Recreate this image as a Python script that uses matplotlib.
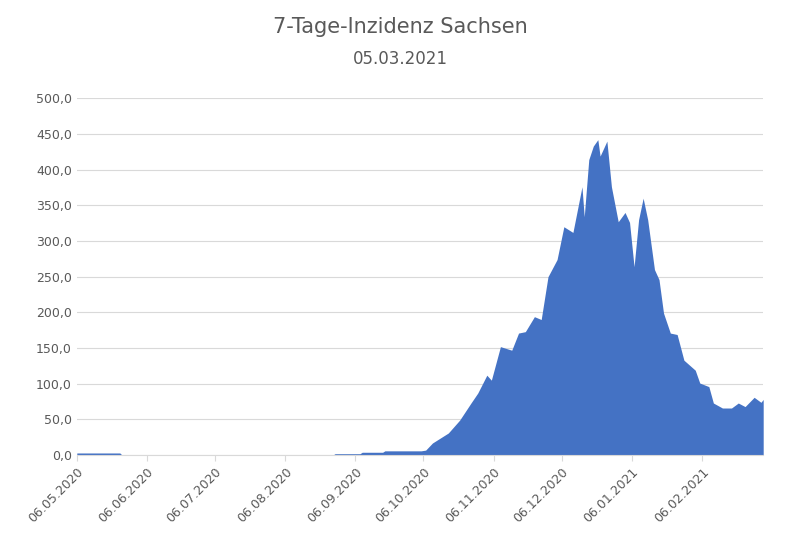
import numpy as np
import pandas as pd
import matplotlib
matplotlib.use("Agg")
import matplotlib.pyplot as plt
import matplotlib.dates as mdates
from matplotlib.ticker import FuncFormatter

BLUE, TEXT, GRID = "#4472C4", "#595959", "#D9D9D9"

# days after 06.05.2020 and 7-day incidence values
days = [0, 1, 18, 19, 20, 113, 114, 125, 126, 135, 136, 146, 152, 154, 157, 164, 169,
        174, 177, 181, 183, 187, 192, 195, 198, 202, 205, 208, 212, 215, 219, 221, 223,
        224, 226, 228, 230, 231, 234, 236, 239, 242, 244, 246, 248, 250, 252, 255, 257,
        259, 262, 265, 268, 273, 275, 279, 281, 285, 289, 292, 295, 299, 302, 303]
values = [3, 3, 3, 3, 0, 0, 2, 2, 4, 4, 6, 6, 6, 7, 17, 31, 49,
          73, 87, 112, 105, 152, 147, 171, 173, 194, 190, 250, 274, 320, 312, 344, 376,
          334, 414, 433, 442, 419, 440, 376, 327, 340, 326, 264, 330, 360, 330, 260, 246,
          199, 171, 169, 133, 119, 101, 96, 73, 66, 66, 73, 68, 81, 74, 78]
start = pd.Timestamp("2020-05-06")
dates = start + pd.to_timedelta(days, unit="D")
tick_dates = pd.date_range("2020-05-06", periods=10, freq=pd.DateOffset(months=1))

fig = plt.figure(figsize=(8.0, 5.49), dpi=100)
ax = fig.add_axes([0.096, 0.171, 0.858, 0.65])
ax.fill_between(dates, values, color=BLUE, lw=0)
ax.set_xlim(start, dates[-1])
ax.set_ylim(0, 500)
ax.set_yticks(np.arange(0, 501, 50))
ax.yaxis.set_major_formatter(FuncFormatter(lambda v, p: f"{v:.1f}".replace(".", ",")))
ax.set_xticks(tick_dates)
ax.xaxis.set_major_formatter(mdates.DateFormatter("%d.%m.%Y"))
plt.setp(ax.get_xticklabels(), rotation=45, ha="right", rotation_mode="anchor")
ax.tick_params(axis="both", colors=TEXT, labelsize=9)
ax.tick_params(axis="y", length=0)
ax.tick_params(axis="x", length=4, color=GRID)
ax.grid(axis="y", color=GRID, lw=0.8)
ax.set_axisbelow(True)
for s in ["top", "right", "left"]:
    ax.spines[s].set_visible(False)
ax.spines["bottom"].set_color(GRID)

fig.text(0.5, 0.94, "7-Tage-Inzidenz Sachsen", ha="center", fontsize=15, color=TEXT)
fig.text(0.5, 0.883, "05.03.2021", ha="center", fontsize=12, color=TEXT)
fig.savefig("out.png", dpi=100)
